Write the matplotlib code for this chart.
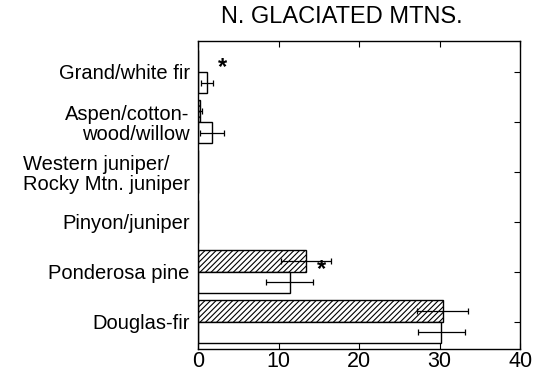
import matplotlib.pyplot as plt
import numpy as np

plt.rcParams['font.family'] = ['Liberation Sans', 'DejaVu Sans']
plt.rcParams['hatch.linewidth'] = 0.8

categories = ['Grand/white fir', 'Aspen/cotton-\nwood/willow', 'Western juniper/\nRocky Mtn. juniper',
              'Pinyon/juniper', 'Ponderosa pine', 'Douglas-fir']
hatched_vals = [0, 0.2, 0, 0, 13.4, 30.4]
hatched_err = [0, 0.3, 0, 0, 3.15, 3.15]
open_vals = [1.1, 1.7, 0, 0, 11.4, 30.2]
open_err = [0.7, 1.5, 0, 0, 2.9, 2.9]
star_marks = [(3.0, 5.08), (15.3, 1.05)]

fig = plt.figure(figsize=(5.44, 3.79), dpi=100)
ax = fig.add_axes([0.364, 0.08, 0.592, 0.812])

y = np.arange(len(categories))[::-1].astype(float)
h = 0.43
ekw = dict(ecolor='black', elinewidth=0.9, capsize=2.5, capthick=0.9)

ax.barh(y + h / 2, hatched_vals, height=h, color='white', edgecolor='black', linewidth=1,
        hatch='//////')
ax.barh(y - h / 2, open_vals, height=h, color='white', edgecolor='black', linewidth=1)
for yi, v, e in zip(y + h / 2, hatched_vals, hatched_err):
    if e > 0:
        ax.errorbar(v, yi, xerr=e, fmt='none', **ekw)
for yi, v, e in zip(y - h / 2, open_vals, open_err):
    if e > 0:
        ax.errorbar(v, yi, xerr=e, fmt='none', **ekw)

for sx, sy in star_marks:
    ax.text(sx, sy, '*', fontsize=17, fontweight='bold', ha='center', va='center')

ax.set_xlim(0, 40)
ax.set_ylim(-0.54, 5.62)
ax.set_xticks([0, 10, 20, 30, 40])
ax.set_yticks(y)
labels = ax.set_yticklabels(categories, fontsize=14.5, ha='right', multialignment='right',
                            linespacing=1.05)
labels[2].set_multialignment('left')
ax.tick_params(axis='x', labelsize=15.5, direction='in', top=True, length=4, pad=2)
ax.tick_params(axis='y', direction='in', right=True, left=False, length=4, pad=6)
for s in ax.spines.values():
    s.set_linewidth(1)

fig.text(0.629, 0.955, 'N. GLACIATED MTNS.', fontsize=17, ha='center', va='center')

fig.savefig('out.png', dpi=100)
